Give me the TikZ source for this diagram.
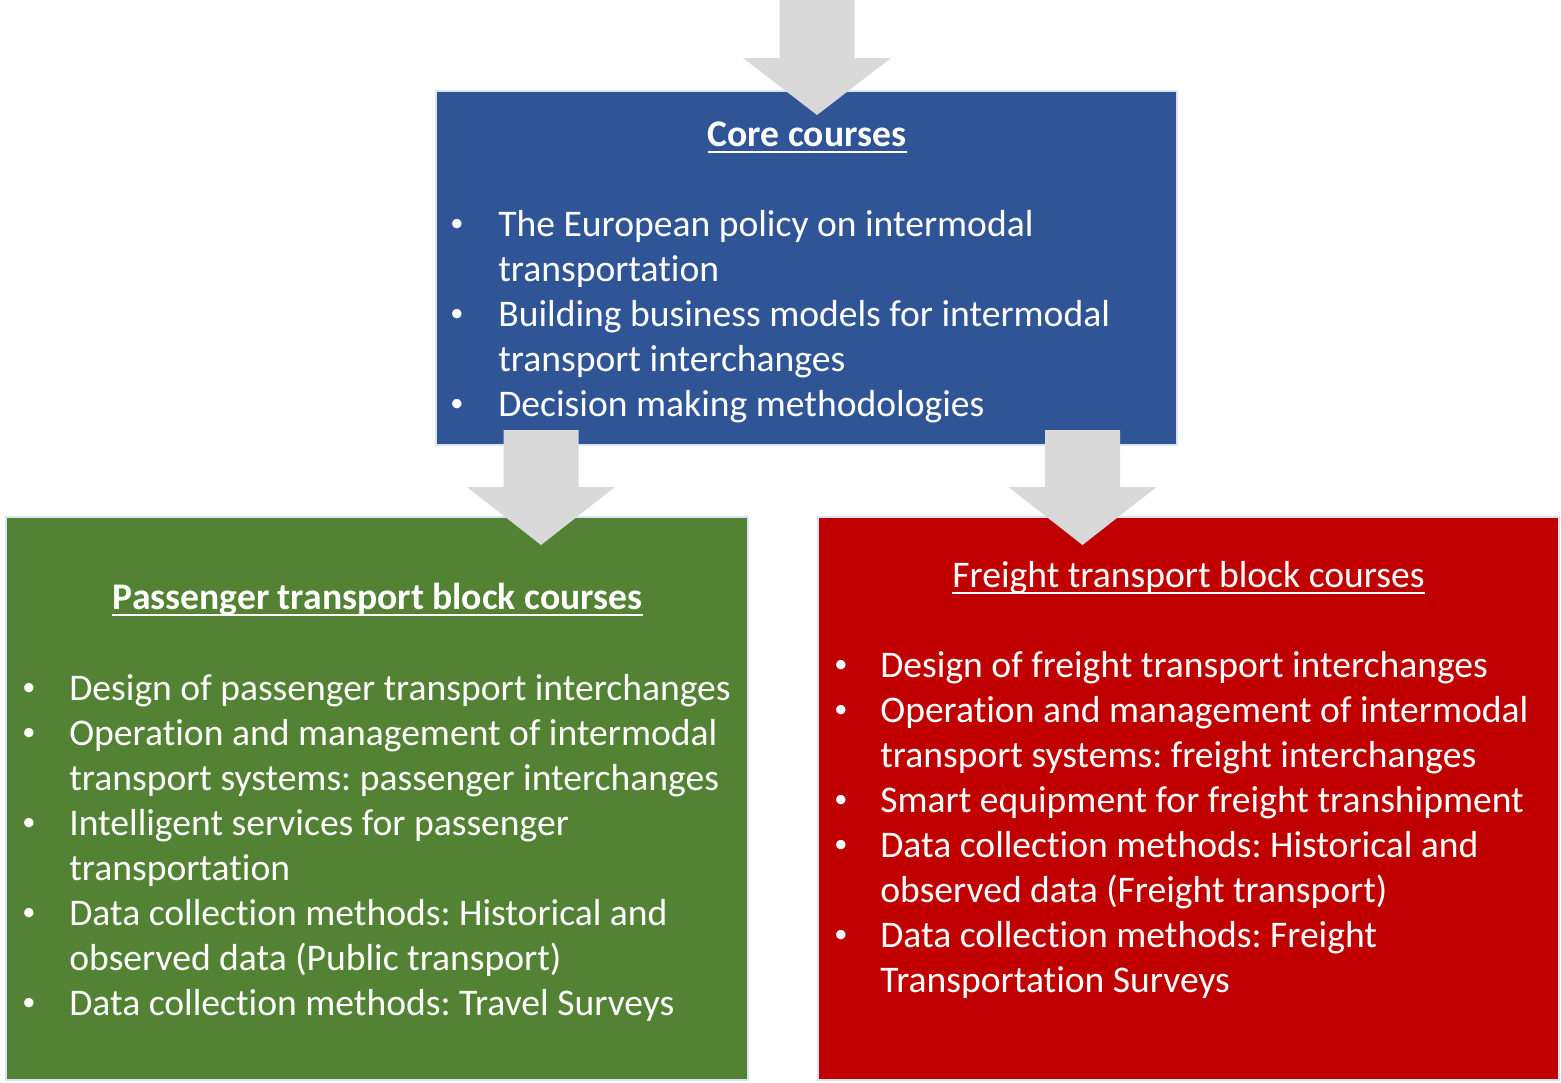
\documentclass[tikz,border=0pt]{standalone}
\usepackage{fontspec}
\setmainfont{Carlito}[Ligatures=NoCommon]
\usepackage{tikz}
\frenchspacing

\definecolor{coreblue}{HTML}{2F5597}
\definecolor{passgreen}{HTML}{548235}
\definecolor{freightred}{HTML}{C00000}
\definecolor{edgeblue}{HTML}{DAE3F3}
\definecolor{arrowgray}{HTML}{D9D9D9}

\tikzset{
    block/.style={draw=edgeblue, line width=0.4mm, inner sep=0pt},
    itemtext/.style={text=white, inner sep=0pt, anchor=base west,
        font=\fontsize{21.4}{26}\selectfont},
    dot/.style={text=white, inner sep=0pt, anchor=base,
        font=\fontsize{15}{18}\selectfont},
    headtext/.style={itemtext, anchor=base}
}

\begin{document}
\begin{tikzpicture}[x=0.2mm, y=-0.2mm]
    \useasboundingbox (0,0) rectangle (1561,1082);

    % the three blocks
    \node (core) [block, fill=coreblue, minimum width=148.2mm, minimum height=70.8mm] at (806.5,268) {};
    \node (pass) [block, fill=passgreen, minimum width=148.4mm, minimum height=112.6mm] at (377,798.5) {};
    \node (freight) [block, fill=freightred, minimum width=148.2mm, minimum height=112.6mm] at (1188.5,798.5) {};

    % block arrows
    \foreach \x/\ys/\yh/\yt in {817/-5/58/115, 541/430/487/545, 1082.5/430/487/545}{
        \fill[arrowgray] (\x-37.5,\ys) -- (\x+37.5,\ys) -- (\x+37.5,\yh) -- (\x+74,\yh)
            -- (\x,\yt) -- (\x-74,\yh) -- (\x-37.5,\yh) -- cycle;
    }

    % titles
    \node (coretitle) [headtext, font=\fontsize{21.4}{26}\selectfont\bfseries] at (807,146) {Core courses};
    \node (passtitle) [headtext, font=\fontsize{21.4}{26}\selectfont\bfseries] at (377.5,609) {Passenger transport block courses};
    \node (freighttitle) [headtext] at (1188.5,587) {Freight transport block courses};
    \foreach \n in {coretitle, passtitle, freighttitle}{
        \draw[white, line width=0.4mm] ([yshift=-1.2mm]\n.base west) -- ([yshift=-1.2mm]\n.base east);
    }

    % core courses
    \foreach \y/\b/\t [count=\i] in {236/1/The European policy on intermodal, 281/0/transportation,
        326/1/Building business models for intermodal, 371/0/transport interchanges,
        416/1/Decision making methodologies}{
        \node (c\i) [itemtext] at (498,\y) {\t};
        \ifnum\b=1 \node (cb\i) [dot] at (457,\y-5) {•}; \fi
    }

    % passenger block
    \foreach \y/\b/\t [count=\i] in {700/1/Design of passenger transport interchanges,
        745/1/Operation and management of intermodal, 790/0/transport systems: passenger interchanges,
        835/1/Intelligent services for passenger, 880/0/transportation,
        925/1/Data collection methods: Historical and, 970/0/observed data (Public transport),
        1015/1/Data collection methods: Travel Surveys}{
        \node (p\i) [itemtext] at (69,\y) {\t};
        \ifnum\b=1 \node (pb\i) [dot] at (29,\y-5) {•}; \fi
    }

    % freight block
    \foreach \y/\b/\t [count=\i] in {677/1/Design of freight transport interchanges,
        722/1/Operation and management of intermodal, 767/0/transport systems: freight interchanges,
        812/1/Smart equipment for freight transhipment,
        857/1/Data collection methods: Historical and, 902/0/observed data (Freight transport),
        947/1/Data collection methods: Freight, 992/0/Transportation Surveys}{
        \node (f\i) [itemtext] at (880,\y) {\t};
        \ifnum\b=1 \node (fb\i) [dot] at (841,\y-5) {•}; \fi
    }
\end{tikzpicture}
\end{document}
